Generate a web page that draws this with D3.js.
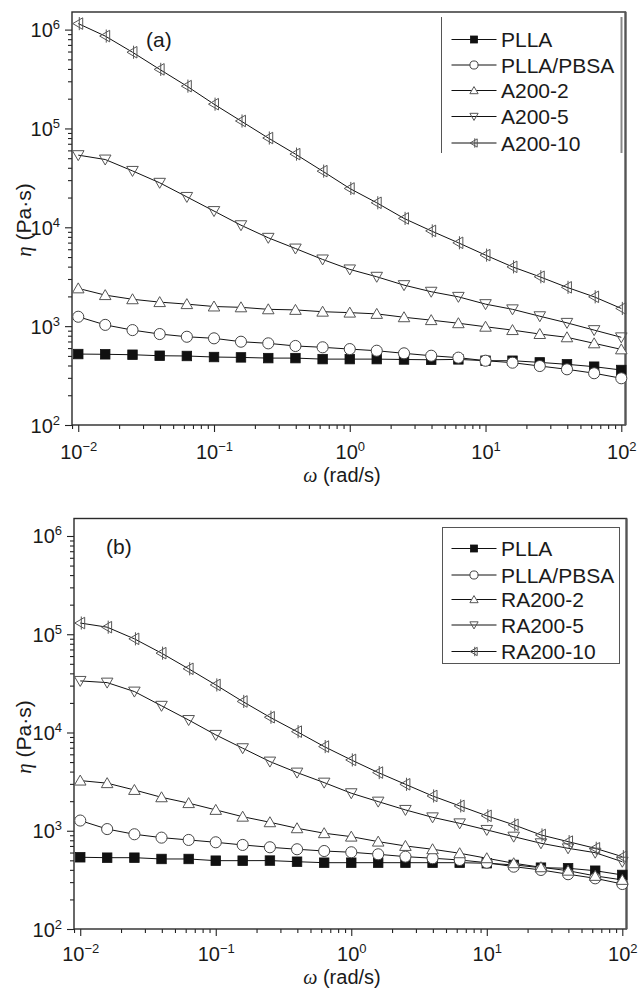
<!DOCTYPE html>
<html>
<head>
<meta charset="utf-8">
<script src="https://cdn.jsdelivr.net/npm/d3@7"></script>
<style>
  html, body { margin: 0; padding: 0; background: #fff; }
  svg { display: block; }
  text { font-family: "Liberation Sans", Arial, sans-serif; fill: #1a1a1a; }
  .greek { font-family: "Liberation Serif", "DejaVu Serif", serif; font-style: italic; }
</style>
</head>
<body>
<svg id="chart" width="638" height="988"></svg>
<script>
// Angular frequency (rad/s), five points per decade
const omega = [0.01, 0.0158, 0.0251, 0.0398, 0.0631, 0.1, 0.158, 0.251, 0.398, 0.631,
               1, 1.58, 2.51, 3.98, 6.31, 10, 15.8, 25.1, 39.8, 63.1, 100];

// Panel (a): complex viscosity (Pa·s)
const pllaA   = [522, 519, 514, 502, 499, 487, 483, 475, 475, 464, 464, 464, 460, 457, 461, 447, 447, 430, 411, 389, 360];
const blendA  = [1245, 1030, 912, 832, 781, 753, 696, 670, 630, 611, 586, 564, 531, 502, 480, 447, 427, 395, 366, 334, 297];
const a200_2  = [2410, 2060, 1870, 1750, 1670, 1580, 1550, 1480, 1460, 1400, 1370, 1330, 1230, 1150, 1070, 986, 912, 832, 771, 670, 582];
const a200_5  = [53700, 48500, 37200, 28200, 20300, 14600, 10500, 7830, 6100, 4730, 3750, 3160, 2600, 2230, 1980, 1670, 1480, 1260, 1080, 912, 771];
const a200_10 = [1150000, 860000, 590000, 396000, 268000, 176000, 119000, 80000, 55000, 37000, 24700, 17700, 12300, 9200, 6970, 5230, 3980, 3160, 2470, 1980, 1510];

// Panel (b): complex viscosity (Pa·s)
const pllaB    = [537, 532, 532, 516, 516, 496, 496, 497, 484, 473, 473, 473, 473, 473, 473, 467, 449, 421, 415, 392, 355];
const blendB   = [1270, 1040, 921, 851, 806, 763, 717, 679, 648, 622, 604, 576, 545, 525, 504, 473, 431, 399, 361, 328, 287];
const ra200_2  = [3240, 3050, 2600, 2190, 1910, 1630, 1390, 1220, 1060, 944, 871, 775, 700, 648, 590, 525, 467, 425, 392, 347, 316];
const ra200_5  = [33500, 32200, 26100, 18700, 13400, 9460, 6920, 5060, 3910, 3090, 2410, 1980, 1630, 1370, 1190, 1020, 871, 746, 663, 598, 484];
const ra200_10 = [130000, 118000, 89800, 64200, 44500, 30500, 20700, 14300, 10200, 7190, 5260, 3910, 2970, 2260, 1790, 1420, 1150, 906, 775, 663, 545];

const namesA = ["PLLA", "PLLA/PBSA", "A200-2", "A200-5", "A200-10"];
const namesB = ["PLLA", "PLLA/PBSA", "RA200-2", "RA200-5", "RA200-10"];
const markerTypes = ["square", "circle", "up", "down", "left"];

// Axis decades (exponents of ten) shown as tick labels
const xTickExp = [-2, -1, 0, 1, 2];
const yTickExp = [2, 3, 4, 5, 6];

const svg = d3.select("#chart");

function markerPath(type, s) {
  const h = s / 2;
  switch (type) {
    case "up":   return `M0,${-h * 1.05}L${h * 1.1},${h * 0.85}L${-h * 1.1},${h * 0.85}Z`;
    case "down": return `M0,${h * 1.05}L${h * 1.1},${-h * 0.85}L${-h * 1.1},${-h * 0.85}Z`;
    case "left": return `M${-h * 1.05},0L${h * 0.85},${-h * 1.1}L${h * 0.85},${h * 1.1}Z` +
                        `M${h * 0.2},${-h * 1.25}L${h * 0.2},${h * 1.25}`;
  }
  return "";
}

function drawMarker(g, type, s) {
  if (type === "square") {
    g.append("rect").attr("x", -s / 2).attr("y", -s / 2).attr("width", s).attr("height", s)
      .attr("fill", "#111").attr("stroke", "#111").attr("stroke-width", 0.8);
  } else if (type === "circle") {
    g.append("circle").attr("r", s / 2 + 0.3)
      .attr("fill", "#fff").attr("stroke", "#444").attr("stroke-width", 1);
  } else {
    g.append("path").attr("d", markerPath(type, s))
      .attr("fill", type === "up" ? "#fff" : "none")
      .attr("stroke", "#555").attr("stroke-width", 1);
  }
}

function supLabel(sel, exp) {
  sel.text(null);
  sel.append("tspan").text("10");
  sel.append("tspan").attr("dy", -8).attr("font-size", 13).text(String(exp).replace("-", "\u2212"));
}

function drawPanel(cfg) {
  const { box, series, names, tag, tagPos, legend, yTitleY, xTitleY, labelOffset } = cfg;
  const x = d3.scaleLog().domain([Math.pow(10, -2.046), Math.pow(10, 2.031)]).range([box.l, box.r]);
  const y = d3.scaleLog().domain([100, Math.pow(10, 6.178)]).range([box.b, box.t]);

  const g = svg.append("g");

  // minor ticks (2..9 within each decade)
  const minorX = [], minorY = [];
  for (let e = -3; e <= 2; e++) for (let m = 2; m <= 9; m++) {
    const v = m * Math.pow(10, e);
    if (v >= x.domain()[0] && v <= x.domain()[1]) minorX.push(v);
  }
  for (let e = 2; e <= 6; e++) for (let m = 2; m <= 9; m++) {
    const v = m * Math.pow(10, e);
    if (v <= y.domain()[1]) minorY.push(v);
  }

  const xMinor = g.append("g").attr("transform", `translate(0,${box.b})`)
    .call(d3.axisBottom(x).tickValues(minorX).tickSize(4).tickFormat(""));
  const yMinor = g.append("g").attr("transform", `translate(${box.l},0)`)
    .call(d3.axisLeft(y).tickValues(minorY).tickSize(4).tickFormat(""));

  const xMajor = g.append("g").attr("transform", `translate(0,${box.b})`)
    .call(d3.axisBottom(x).tickValues(xTickExp.map(e => Math.pow(10, e))).tickSize(7).tickPadding(0));
  const yMajor = g.append("g").attr("transform", `translate(${box.l},0)`)
    .call(d3.axisLeft(y).tickValues(yTickExp.map(e => Math.pow(10, e))).tickSize(7).tickPadding(0));

  [xMinor, yMinor, xMajor, yMajor].forEach(a => {
    a.select(".domain").remove();
    a.selectAll(".tick line").attr("stroke", "#222").attr("stroke-width", 1.1);
  });

  xMajor.selectAll(".tick text")
    .attr("y", labelOffset).attr("dy", 0).attr("font-size", 20)
    .attr("font-family", '"Liberation Sans", Arial, sans-serif').attr("fill", "#1a1a1a")
    .each(function (d) { supLabel(d3.select(this), Math.round(Math.log10(d))); });

  yMajor.selectAll(".tick text")
    .attr("x", -12).attr("dy", 7).attr("font-size", 20)
    .attr("font-family", '"Liberation Sans", Arial, sans-serif').attr("fill", "#1a1a1a")
    .each(function (d) { supLabel(d3.select(this), Math.round(Math.log10(d))); });

  // frame
  g.append("rect").attr("x", box.l).attr("y", box.t)
    .attr("width", box.r - box.l).attr("height", box.b - box.t)
    .attr("fill", "none").attr("stroke", "#2a2a2a").attr("stroke-width", 1.4);
  g.append("line").attr("x1", box.r).attr("x2", box.r).attr("y1", box.t).attr("y2", box.b)
    .attr("stroke", "#555").attr("stroke-width", 2.2);

  // curves and markers
  const line = d3.line().x(d => x(d[0])).y(d => y(d[1]));
  series.forEach((vals, i) => {
    const pts = omega.map((w, k) => [w, vals[k]]);
    g.append("path").attr("d", line(pts))
      .attr("fill", "none").attr("stroke", "#111").attr("stroke-width", 1);
  });
  series.forEach((vals, i) => {
    const type = markerTypes[i];
    const sz = type === "square" ? 9.5 : 10.5;
    omega.forEach((w, k) => {
      const mg = g.append("g").attr("transform", `translate(${x(w)},${y(vals[k])})`);
      drawMarker(mg, type, sz);
    });
  });

  // panel tag
  g.append("text").attr("x", tagPos[0]).attr("y", tagPos[1]).attr("font-size", 21).text(tag);

  // legend
  const lg = g.append("g");
  if (legend.box === "full") {
    lg.append("rect").attr("x", legend.x0).attr("y", legend.y0)
      .attr("width", legend.x1 - legend.x0).attr("height", legend.y1 - legend.y0)
      .attr("fill", "#fff").attr("stroke", "#555").attr("stroke-width", 1);
  } else {
    lg.append("line").attr("x1", legend.x0).attr("x2", legend.x0).attr("y1", legend.y0).attr("y2", legend.y1)
      .attr("stroke", "#555").attr("stroke-width", 1);
    lg.append("line").attr("x1", legend.x1).attr("x2", legend.x1).attr("y1", legend.y0).attr("y2", legend.y1)
      .attr("stroke", "#888").attr("stroke-width", 2);
  }
  names.forEach((name, i) => {
    const ry = legend.rows[i];
    lg.append("line").attr("x1", 451.5).attr("x2", 496.5).attr("y1", ry).attr("y2", ry)
      .attr("stroke", "#111").attr("stroke-width", 1);
    const mg = lg.append("g").attr("transform", `translate(474,${ry})`);
    drawMarker(mg, markerTypes[i], markerTypes[i] === "square" ? 7 : 7.5);
    lg.append("text").attr("x", 501).attr("y", ry + 7.5).attr("font-size", 21).text(name);
  });

  // axis titles
  const yt = g.append("text").attr("transform", `translate(31,${yTitleY}) rotate(-90)`)
    .attr("text-anchor", "middle").attr("font-size", 21);
  yt.append("tspan").attr("class", "greek").text("\u03b7");
  yt.append("tspan").text(" (Pa\u00b7s)");

  const xt = g.append("text").attr("x", 342).attr("y", xTitleY)
    .attr("text-anchor", "middle").attr("font-size", 20);
  xt.append("tspan").attr("class", "greek").text("\u03c9");
  xt.append("tspan").text(" (rad/s)");
}

drawPanel({
  box: { l: 72, r: 625.5, t: 12, b: 425 },
  series: [pllaA, blendA, a200_2, a200_5, a200_10],
  names: namesA,
  tag: "(a)", tagPos: [146, 47],
  legend: { box: "sides", x0: 441.5, x1: 621.5, y0: 17, y1: 153, rows: [39.5, 65, 90.5, 116.5, 143] },
  yTitleY: 220, xTitleY: 482, labelOffset: 34
});

drawPanel({
  box: { l: 74, r: 626.5, t: 518.5, b: 929 },
  series: [pllaB, blendB, ra200_2, ra200_5, ra200_10],
  names: namesB,
  tag: "(b)", tagPos: [106, 554],
  legend: { box: "full", x0: 442.5, x1: 619.5, y0: 527.5, y1: 663.5, rows: [548.5, 575, 599.5, 625, 651.5] },
  yTitleY: 737, xTitleY: 984, labelOffset: 32
});
</script>
</body>
</html>
